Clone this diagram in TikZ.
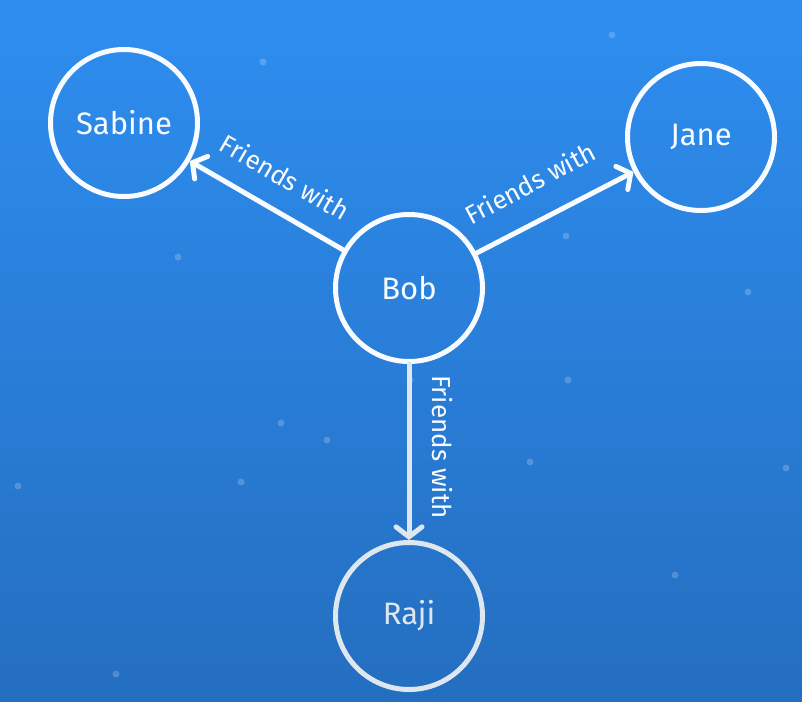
\documentclass[tikz,border=0pt]{standalone}
\usepackage{fontspec}
\setmainfont{Fira Sans}
\usetikzlibrary{arrows.meta}
\definecolor{bgtop}{RGB}{46,142,240}
\definecolor{bgbot}{RGB}{36,110,192}
\definecolor{ink}{RGB}{248,251,255}
\definecolor{fade}{RGB}{222,230,240}
\tikzset{
  person/.style={circle, draw=ink, line width=5pt, minimum size=147pt, inner sep=0pt,
    text=ink, font=\fontsize{31}{35}\selectfont},
  rel/.style={draw=ink, line width=5pt, -{Straight Barb[length=10pt,width=26pt,line cap=round]}, line cap=round},
  rellabel/.style={text=ink, font=\fontsize{26}{30}\selectfont, inner sep=0pt},
  speck/.style={fill=white, opacity=0.2}
}
\begin{document}
\begin{tikzpicture}[x=1pt,y=-1pt]
\shade[top color=bgtop, bottom color=bgbot] (0,0) rectangle (802,701);
\useasboundingbox (0,0) rectangle (802,701);
% faint background specks
\foreach \p in {(281,423),(327,440),(18,486),(241,482),(116,674),(263,62),(612,35),(410,380),(568,380),(748,292),(566,236),(530,462),(178,257),(786,468),(675,575)}
  \fill[speck] \p circle (3.5pt);
\node[person] (sabine) at (124,123) {Sabine};
\node[person] (jane) at (701,137) {Jane};
\node[person] (bob) at (409,288) {Bob};
\node[person, draw=fade, text=fade] (raji) at (409,616) {Raji};
\draw[rel] (bob) -- (sabine);
\draw[rel] (bob) -- (jane);
\draw[rel, draw=fade] (bob) -- (raji);
\node[rellabel, rotate=-30] (l1) at (285,177) {Friends with};
\node[rellabel, rotate=28] (l2) at (530,183) {Friends with};
\node[rellabel, rotate=-90] (l3) at (442,447) {Friends with};
\end{tikzpicture}
\end{document}
